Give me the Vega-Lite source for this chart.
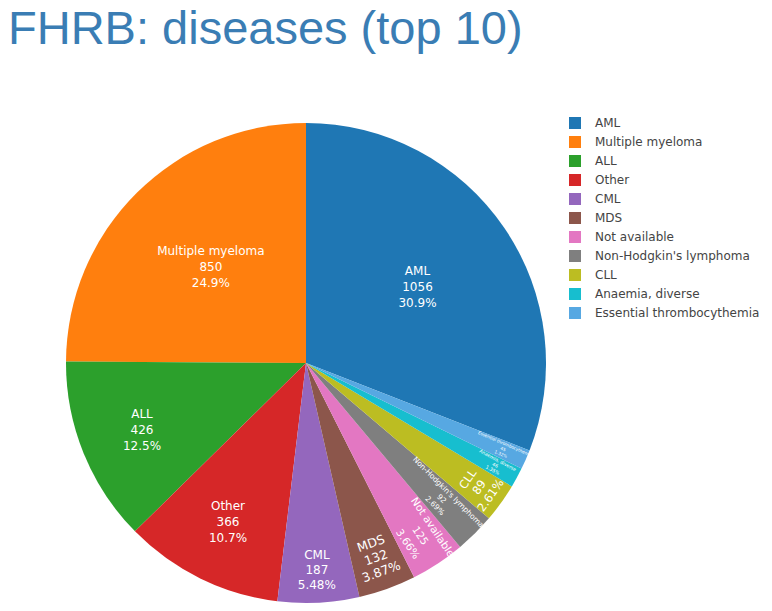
{
  "$schema": "https://vega.github.io/schema/vega-lite/v6.json",
  "autosize": {"type": "none"},
  "width": 480,
  "height": 480,
  "padding": {"left": 66, "top": 123, "right": 226, "bottom": 8},
  "background": "white",
  "title": {
    "text": "FHRB: diseases (top 10)",
    "anchor": "start",
    "frame": "group",
    "font": "Liberation Sans",
    "fontSize": 47,
    "fontWeight": "normal",
    "color": "#3a7db4",
    "dx": -58,
    "offset": 63
  },
  "config": {"view": {"stroke": null}},
  "data": {
    "values": [
      {"disease": "AML", "count": 1056},
      {"disease": "Multiple myeloma", "count": 850},
      {"disease": "ALL", "count": 426},
      {"disease": "Other", "count": 366},
      {"disease": "CML", "count": 187},
      {"disease": "MDS", "count": 132},
      {"disease": "Not available", "count": 125},
      {"disease": "Non-Hodgkin's lymphoma", "count": 92},
      {"disease": "CLL", "count": 89},
      {"disease": "Anaemia, diverse", "count": 46},
      {"disease": "Essential thrombocythemia", "count": 45}
    ]
  },
  "transform": [
    {"joinaggregate": [{"op": "sum", "field": "count", "as": "total"}]},
    {"calculate": "datum.disease + '\\n' + datum.count + '\\n' + format(datum.count / datum.total, '.3p')", "as": "label"}
  ],
  "encoding": {
    "theta": {"field": "count", "type": "quantitative", "stack": true, "scale": {"range": [8.22668, 1.94349]}},
    "order": {"field": "count", "type": "quantitative", "sort": "descending"}
  },
  "layer": [
    {
      "mark": {"type": "arc", "outerRadius": 240},
      "encoding": {
        "color": {
          "field": "disease",
          "type": "nominal",
          "scale": {
            "domain": ["AML", "Multiple myeloma", "ALL", "Other", "CML", "MDS", "Not available", "Non-Hodgkin's lymphoma", "CLL", "Anaemia, diverse", "Essential thrombocythemia"],
            "range": ["#1f77b4", "#ff7f0e", "#2ca02c", "#d62728", "#9467bd", "#8c564b", "#e377c2", "#7f7f7f", "#bcbd22", "#17becf", "#57a8e2"]
          },
          "legend": {
            "title": null,
            "orient": "none",
            "legendX": 503,
            "legendY": -6,
            "padding": 0,
            "symbolType": "square",
            "symbolSize": 144,
            "symbolStrokeWidth": 0,
            "labelFont": "DejaVu Sans",
            "labelFontSize": 12,
            "labelColor": "#444444",
            "labelOffset": 14,
            "labelLimit": 300,
            "rowPadding": 7
          }
        }
      }
    },
    {
      "mark": {"type": "text", "radius": 135, "font": "DejaVu Sans", "fontSize": 12, "lineHeight": 16, "dy": -16, "lineBreak": "\n", "fill": "white", "align": "center", "baseline": "middle"},
      "encoding": {
        "text": {"condition": {"test": "datum.count >= 850", "field": "label"}, "value": ""}
      }
    },
    {
      "mark": {"type": "text", "radius": 177, "font": "DejaVu Sans", "fontSize": 12, "lineHeight": 16, "dy": -16, "lineBreak": "\n", "fill": "white", "align": "center", "baseline": "middle"},
      "encoding": {
        "text": {"condition": {"test": "datum.count == 426 || datum.count == 366", "field": "label"}, "value": ""}
      }
    },
    {
      "mark": {"type": "text", "radius": 192, "font": "DejaVu Sans", "fontSize": 7.5, "lineHeight": 9.5, "dy": -9.5, "lineBreak": "\n", "fill": "white", "align": "center", "baseline": "middle", "angle": 45},
      "encoding": {
        "text": {"condition": {"test": "datum.count == 92", "field": "label"}, "value": ""}
      }
    },
    {
      "mark": {"type": "text", "radius": 207, "font": "DejaVu Sans", "lineHeight": 15, "dy": -15, "lineBreak": "\n", "fill": "white", "align": "center", "baseline": "middle"},
      "encoding": {
        "text": {"condition": {"test": "datum.count == 187 || datum.count == 132 || datum.count == 125", "field": "label"}, "value": ""},
        "angle": {"condition": [{"test": "datum.count == 125", "value": 56}, {"test": "datum.count == 132", "value": -20}], "value": 0},
        "size": {"condition": [{"test": "datum.count == 125", "value": 10.5}, {"test": "datum.count == 132", "value": 12.5}], "value": 12}
      }
    },
    {
      "mark": {"type": "text", "radius": 214, "font": "DejaVu Sans", "fontSize": 11.5, "lineHeight": 14, "dy": -14, "lineBreak": "\n", "fill": "white", "align": "center", "baseline": "middle", "angle": -55},
      "encoding": {
        "text": {"condition": {"test": "datum.count == 89", "field": "label"}, "value": ""}
      }
    },
    {
      "mark": {"type": "text", "radius": 215, "font": "DejaVu Sans", "lineHeight": 5.5, "dy": -5.5, "lineBreak": "\n", "fill": "white", "align": "center", "baseline": "middle"},
      "encoding": {
        "text": {"condition": {"test": "datum.count <= 46", "field": "label"}, "value": ""},
        "angle": {"condition": [{"test": "datum.count == 46", "value": 28}], "value": 23.5},
        "size": {"condition": [{"test": "datum.count == 46", "value": 4.7}], "value": 4.3}
      }
    }
  ]
}
